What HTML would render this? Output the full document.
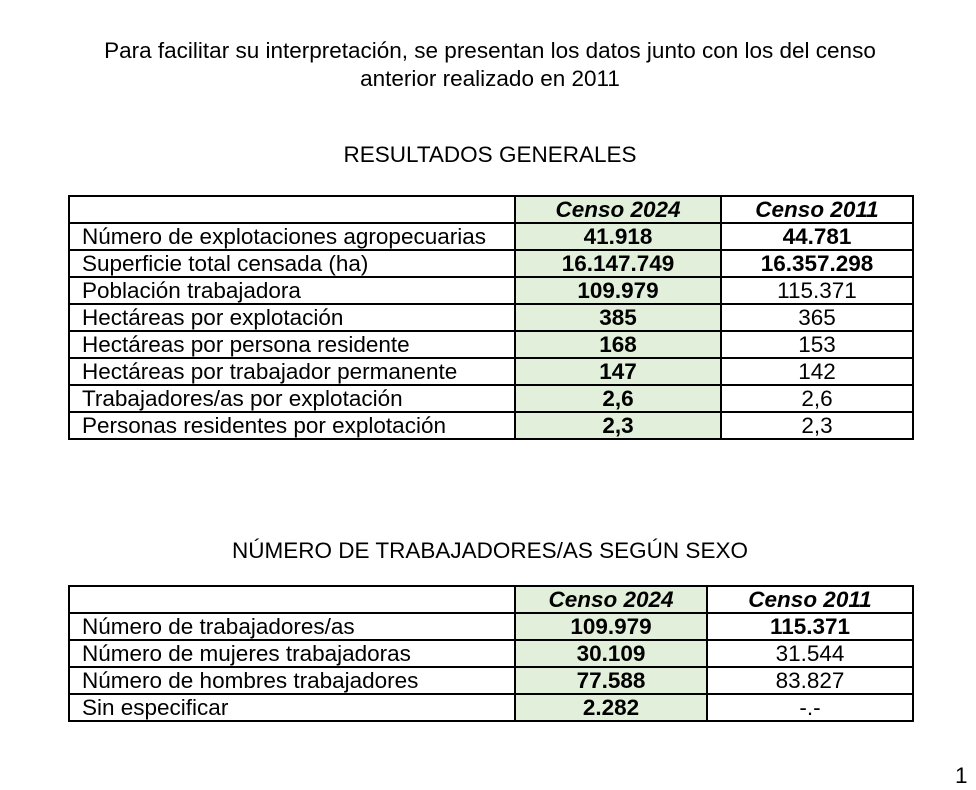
<!DOCTYPE html>
<html><head><meta charset="utf-8"><style>
body{margin:0;width:976px;height:786px;background:#fff;position:relative;font-family:"Liberation Sans",Arial,sans-serif;color:#000;overflow:hidden}
.t{position:absolute;text-align:center;font-size:22.5px;line-height:28px}
table{position:absolute;border-collapse:collapse;font-size:22.5px;table-layout:fixed}
tr{height:27px}
td{border:2px solid #000;padding:0 0 0 12px;line-height:23px;white-space:nowrap;overflow:hidden}
td.g{background:#e2efda;text-align:center;font-weight:bold;padding:0}
td.w{text-align:center;padding:0}
td.b{font-weight:bold}
td.h{font-style:italic;font-weight:bold}
</style></head><body>
<div class="t" style="left:0;width:980px;top:37px">Para facilitar su interpretación, se presentan los datos junto con los del censo<br>anterior realizado en 2011</div>
<div class="t" style="left:0;width:980px;top:141px">RESULTADOS GENERALES</div>
<table style="left:68px;top:195px;width:844px">
<colgroup><col style="width:446px"><col style="width:206px"><col style="width:192px"></colgroup>
<tr><td></td><td class="g h">Censo 2024</td><td class="w h">Censo 2011</td></tr>
<tr><td>Número de explotaciones agropecuarias</td><td class="g">41.918</td><td class="w b">44.781</td></tr>
<tr><td>Superficie total censada (ha)</td><td class="g">16.147.749</td><td class="w b">16.357.298</td></tr>
<tr><td>Población trabajadora</td><td class="g">109.979</td><td class="w">115.371</td></tr>
<tr><td>Hectáreas por explotación</td><td class="g">385</td><td class="w">365</td></tr>
<tr><td>Hectáreas por persona residente</td><td class="g">168</td><td class="w">153</td></tr>
<tr><td>Hectáreas por trabajador permanente</td><td class="g">147</td><td class="w">142</td></tr>
<tr><td>Trabajadores/as por explotación</td><td class="g">2,6</td><td class="w">2,6</td></tr>
<tr><td>Personas residentes por explotación</td><td class="g">2,3</td><td class="w">2,3</td></tr>
</table>
<div class="t" style="left:0;width:980px;top:537px">NÚMERO DE TRABAJADORES/AS SEGÚN SEXO</div>
<table style="left:68px;top:585px;width:844px">
<colgroup><col style="width:446px"><col style="width:192px"><col style="width:206px"></colgroup>
<tr><td></td><td class="g h">Censo 2024</td><td class="w h">Censo 2011</td></tr>
<tr><td>Número de trabajadores/as</td><td class="g">109.979</td><td class="w b">115.371</td></tr>
<tr><td>Número de mujeres trabajadoras</td><td class="g">30.109</td><td class="w">31.544</td></tr>
<tr><td>Número de hombres trabajadores</td><td class="g">77.588</td><td class="w">83.827</td></tr>
<tr><td>Sin especificar</td><td class="g">2.282</td><td class="w">-.-</td></tr>
</table>
<div class="t" style="left:955px;top:762px;text-align:left">1</div>
</body></html>
